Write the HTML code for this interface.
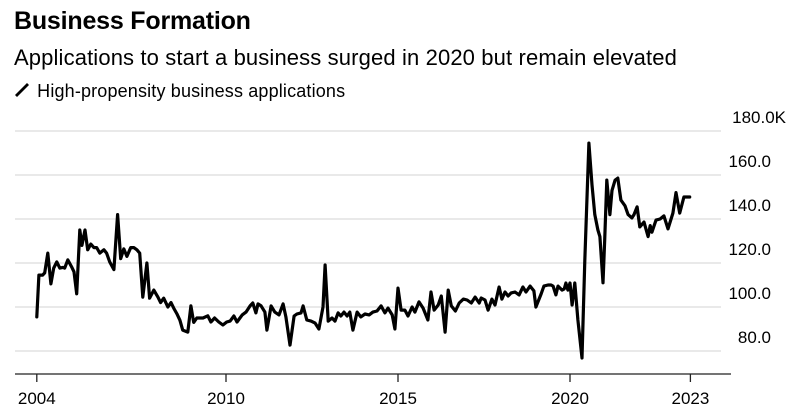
<!DOCTYPE html>
<html><head><meta charset="utf-8"><style>
body{margin:0;background:#fff;font-family:"Liberation Sans",Arial,sans-serif;color:#000}
#wrap{position:relative;width:791px;height:415px;overflow:hidden}
.t{position:absolute;white-space:nowrap}
</style></head><body>
<div id="wrap">
<div class="t" style="left:14px;top:7px;font-size:25px;font-weight:bold;letter-spacing:-0.2px">Business Formation</div>
<div class="t" style="left:14px;top:45px;font-size:22px;letter-spacing:0.13px">Applications to start a business surged in 2020 but remain elevated</div>
<div class="t" style="left:14px;top:81px;font-size:18px;letter-spacing:0.16px"><svg width="18" height="16" style="vertical-align:-1px"><line x1="2" y1="14" x2="14" y2="2" stroke="#000" stroke-width="2.8"/></svg> High-propensity business applications</div>
<svg id="chart" width="791" height="415" style="position:absolute;left:0;top:0"></svg>
</div>
<script>
const yTicks=[80,100,120,140,160,180];
const yTickLabels=["80.0","100.0","120.0","140.0","160.0","180.0K"];
const xTicks=[2004.5,2010,2015,2020,2023.5];
const xTickLabels=["2004","2010","2015","2020","2023"];
const dates=[2004.50,2004.56,2004.67,2004.73,2004.82,2004.91,2004.99,2005.08,2005.17,2005.26,2005.31,2005.40,2005.52,2005.58,2005.66,2005.75,2005.81,2005.90,2005.98,2006.07,2006.16,2006.24,2006.33,2006.45,2006.53,2006.62,2006.74,2006.85,2006.94,2007.03,2007.12,2007.23,2007.32,2007.41,2007.49,2007.58,2007.70,2007.78,2007.90,2008.02,2008.10,2008.19,2008.31,2008.40,2008.48,2008.57,2008.66,2008.74,2008.89,2008.98,2009.06,2009.15,2009.33,2009.47,2009.56,2009.67,2009.79,2009.91,2010.02,
2010.12,2010.23,2010.32,2010.47,2010.58,2010.70,2010.78,2010.87,2010.93,2011.02,2011.13,2011.19,2011.31,2011.42,2011.54,2011.66,2011.74,2011.86,2011.98,2012.06,2012.18,2012.24,2012.35,2012.47,2012.59,2012.70,2012.82,2012.88,2012.97,2013.08,2013.17,2013.26,2013.34,2013.43,2013.52,2013.60,2013.69,2013.81,2013.92,2014.04,2014.16,2014.27,2014.39,2014.51,2014.62,2014.71,2014.83,2014.91,
2015.00,2015.09,2015.20,2015.29,2015.41,2015.49,2015.61,2015.73,2015.87,2015.96,2016.05,2016.17,2016.26,2016.37,2016.46,2016.55,2016.67,2016.78,2016.90,2017.01,2017.13,2017.24,2017.36,2017.42,2017.53,2017.62,2017.73,2017.82,2017.94,2018.02,2018.11,2018.20,2018.29,2018.40,2018.52,2018.63,2018.72,2018.84,2018.95,2019.01,2019.16,2019.24,2019.36,2019.45,2019.51,2019.59,2019.65,2019.77,2019.83,2019.88,2019.94,
2020.00,2020.06,2020.14,2020.23,2020.35,2020.43,2020.55,2020.64,2020.72,2020.81,2020.87,2020.96,2021.01,2021.07,2021.16,2021.22,2021.31,2021.39,2021.48,2021.60,2021.69,2021.80,2021.86,2021.95,2022.03,2022.15,2022.27,2022.33,2022.38,2022.50,2022.62,2022.73,2022.85,2022.99,2023.08,2023.19,2023.31,2023.48];
const values=[95.5,114.5,114.5,115.5,124.5,110.5,117.7,120.5,117.7,118,117.7,121.4,118,116,106,135,128,135,126,128.6,127,127,124.5,126,124.5,120.5,117,142,122,126.4,123,127,127,126,124.5,104.5,120,104,107.7,104.5,102,104,100,102,99.5,97,94,89.5,88.6,100.5,93,95,95,96,93.2,95,93.2,91.8,93.2,
93.6,95.9,93.2,96.4,97.7,100.5,101.8,97.3,101.4,100.5,97.7,89.5,100.5,97.7,96.4,101.4,95.5,82.7,95.9,96.8,97.3,100.5,94.1,93.6,92.7,90,100,119.1,93.6,95,93.6,97.3,95.9,97.7,95.9,97.7,89.5,97.7,95.5,96.8,96.4,97.7,98.2,100.5,97.3,99.5,96.4,90,108.6,
98.6,98.6,95.9,100,97.7,102.3,99.5,94.1,106.8,98.6,100.9,105,88.6,107.7,100.5,98.2,101.8,103.6,103.2,101.8,104.5,101.8,104.1,103.2,98.6,103.6,100.9,109.1,103.6,106.8,105,106.4,106.8,105.5,109.1,106.8,109.5,107.3,100,105.9,109.5,110,110,109.5,105.5,109.5,107.7,108.2,110.9,107.7,110.9,
100.9,110.9,94.1,76.8,121,174.5,155.5,142,135,132,111,130.5,157.7,142,153,157.7,158.6,148.6,146,142,140.5,142,145.5,136.4,138.6,132,137,134,139.5,140,141.4,135.5,142.7,152,142.7,150,150,149.5];
const svg=document.getElementById('chart');
const NS='http://www.w3.org/2000/svg';
const X=d=>226+(d-2010)*34.4;
const Y=v=>131+(180-v)*2.2;
function mk(tag,attrs){const e=document.createElementNS(NS,tag);for(const k in attrs)e.setAttribute(k,attrs[k]);svg.appendChild(e);return e;}
yTicks.forEach((v,i)=>{
 const g=mk('line',{x1:15,x2:721,y1:Y(v),y2:Y(v),stroke:'#dcdcdc','stroke-width':1.3});
 
 
 const isTop=i===yTicks.length-1;
 const t=mk('text',{x:isTop?786:771,y:Y(v)-8,'text-anchor':'end','font-size':17,'font-family':'Liberation Sans, Arial, sans-serif',fill:'#000'});
 t.textContent=yTickLabels[i];
 
 
});
const ax=mk('line',{x1:15,x2:731,y1:374,y2:374,stroke:'#222','stroke-width':1.3});


xTicks.forEach((d,i)=>{
 const tk=mk('line',{x1:X(d),x2:X(d),y1:374,y2:382,stroke:'#222','stroke-width':1.3});
 
 
 const t=mk('text',{x:X(d),y:404,'text-anchor':'middle','font-size':17,'font-family':'Liberation Sans, Arial, sans-serif',fill:'#000'});
 t.textContent=xTickLabels[i];
 
 
});
const pts=dates.map((d,i)=>X(d).toFixed(1)+','+Y(values[i]).toFixed(1)).join(' ');
const line=mk('polyline',{points:pts,fill:'none',stroke:'#000','stroke-width':3.2,'stroke-linejoin':'round','stroke-linecap':'round'});


</script>
</body></html>
